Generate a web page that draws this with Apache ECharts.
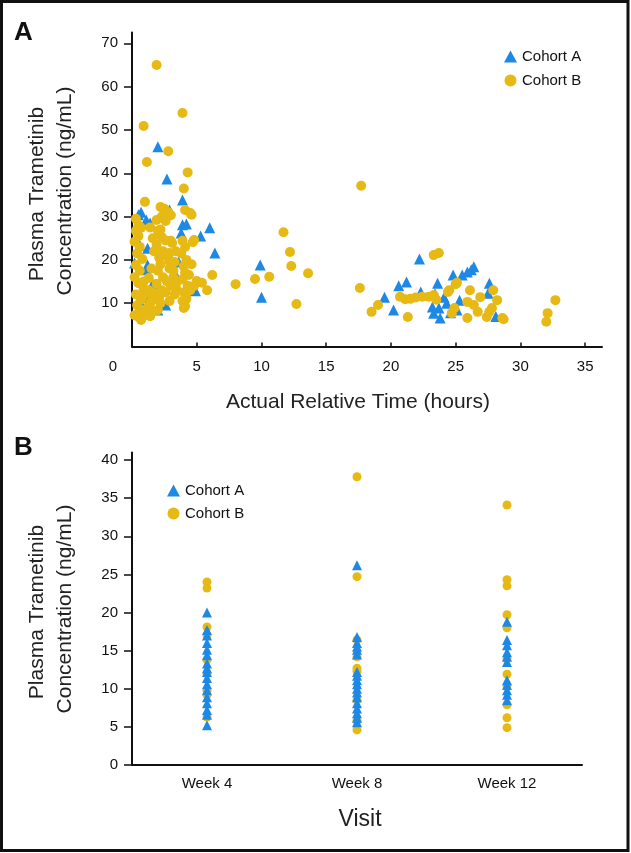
<!DOCTYPE html>
<html>
<head>
<meta charset="utf-8">
<script src="https://cdn.jsdelivr.net/npm/echarts@6/dist/echarts.min.js"></script>
<style>
html,body{margin:0;padding:0;background:#fff;}
#chart{width:631px;height:853px;}
</style>
</head>
<body>
<div id="chart"></div>
<script>
// ---------- Panel A: concentration vs actual relative time ----------
var timeTicks = [5, 10, 15, 20, 25, 30, 35];
var concTicksA = [10, 20, 30, 40, 50, 60, 70];

var timeCohortA = [2.0,2.7,3.9,0.7,0.5,1.1,1.4,3.9,4.2,6.0,3.8,5.3,6.4,0.2,1.2,1.1,4.9,2.6,2.0,1.1,9.9,10.0,2.9,0.6,1.2,0.6,3.3,2.4,1.6,3.6,
  22.2,24.8,25.5,26.2,26.4,20.6,21.2,19.5,20.2,23.6,23.7,23.8,23.3,23.2,24.3,24.1,22.3,25.3,25.1,27.6,27.5,28.1,23.4,24.6,25.9];
var concCohortA = [46.1,38.7,33.8,31.0,30.4,29.2,28.5,28.1,28.3,27.4,26.2,25.5,21.6,19.3,22.7,17.7,12.9,9.6,8.4,11.3,18.8,11.4,31.5,23.4,18.8,10.7,17.0,21.5,14.5,19.5,
  20.2,16.5,16.5,17.7,18.4,14.0,14.9,11.4,8.4,14.6,8.9,6.6,7.7,9.1,10.0,11.4,12.6,10.7,8.4,14.6,12.3,6.9,12.2,7.8,17.2];

var timeCohortB = [1.9,0.9,3.9,2.8,1.15,4.3,4.0,1.0,17.7,17.6,8.0,9.5,10.6,11.7,12.2,12.3,12.7,13.6,6.2,5.4,5.8,5.0,4.7,4.8,3.1,3.0,2.9,2.9,4.1,4.6,4.5,2.2,2.5,2.8,3.0,2.3,2.6,1.9,2.2,0.7,
  0.3,0.5,0.2,0.6,0.4,0.8,0.3,0.6,0.2,0.5,0.9,0.3,0.7,0.4,0.6,0.2,0.7,0.4,1.0,
  2.0,2.3,1.9,2.4,2.1,2.2,2.0,2.4,1.9,2.3,2.1,2.2,2.0,
  3.9,4.1,3.8,4.2,4.0,4.1,3.9,4.3,4.0,4.2,3.9,4.1,4.0,
  1.3,1.5,1.4,1.6,2.9,3.2,3.0,3.3,
  1.2,1.5,1.3,0.9,1.6,1.0,1.4,0.8,2.7,3.2,2.6,3.4,2.9,3.5,2.8,3.3,2.6,3.4,4.5,4.4,4.6,4.8,1.6,1.7,1.5,1.4,0.3,0.5,
  23.3,23.7,18.5,19.0,21.3,20.7,21.1,21.5,21.9,22.4,22.9,23.3,23.5,24.5,25.0,24.7,24.9,25.9,26.1,25.9,26.4,26.9,26.7,27.9,28.2,27.4,27.8,27.6,28.6,28.7,32.1,32.0,32.7,24.4,25.1];
var concCohortB = [65.0,50.9,53.9,45.1,42.6,40.2,36.5,33.4,37.1,13.5,14.4,15.6,16.1,26.4,21.8,18.6,9.8,16.9,16.5,14.7,13.0,15.1,24.1,24.6,23.9,24.4,21.6,19.7,31.5,30.4,30.8,32.2,31.8,31.0,30.3,30.0,29.0,29.2,27.0,27.4,
  26.7,25.5,24.2,23.0,21.5,20.2,18.8,17.5,16.0,14.6,13.3,12.0,10.8,9.5,8.3,7.2,6.1,7.0,7.3,
  26.7,25.3,23.5,22.0,20.5,19.0,17.5,16.0,14.5,13.0,11.5,10.0,8.4,
  24.4,23.0,21.5,20.0,18.5,17.0,15.5,14.0,12.5,11.0,10.5,9.3,8.9,
  15.8,12.0,10.0,8.2,18.0,16.0,14.0,12.0,
  9.0,10.5,13.0,15.0,12.5,8.0,7.0,11.5,15.0,17.5,12.5,13.5,10.5,15.0,20.5,19.5,24.5,22.0,13.0,16.5,19.0,14.0,25.0,22.0,18.0,27.5,29.5,28.0,
  21.1,21.6,8.0,9.6,6.8,11.5,10.9,11.0,11.3,11.5,11.5,11.9,10.8,13.0,14.4,7.7,8.9,6.6,13.0,10.3,9.6,11.4,8.0,13.0,10.7,6.8,8.9,8.0,6.6,6.3,7.7,5.7,10.7,12.6,14.7];

// ---------- Panel B: concentration by visit ----------
var visits = ['Week 4', 'Week 8', 'Week 12'];
var concTicksB = [0, 5, 10, 15, 20, 25, 30, 35, 40];
var week4CohortA = [20.0,17.7,17.0,16.0,15.1,14.4,13.3,12.7,12.2,11.4,10.6,9.8,8.9,8.1,7.2,6.6,5.2];
var week4CohortB = [24.0,23.2,18.1,17.0,13.8,12.0,9.8,9.2,6.3];
var week8CohortA = [26.2,16.8,16.0,15.5,15.1,14.5,12.2,11.7,11.1,10.6,10.0,9.5,8.9,8.1,7.4,6.8,6.2,5.6];
var week8CohortB = [37.8,24.7,16.4,14.2,12.7,12.3,8.5,5.8,4.6];
var week12CohortA = [18.8,16.4,15.7,14.8,14.2,13.5,11.1,10.5,9.8,9.2,8.5];
var week12CohortB = [34.1,24.3,23.5,19.7,18.0,13.9,11.9,10.4,7.9,6.2,4.9];

var BLUE = '#1E88E5';
var GOLD = '#E6B914';
var FONT = 'Liberation Sans, Arial, sans-serif';

function zip(xs, ys) { return xs.map(function (x, i) { return [x, ys[i]]; }); }
function visitPoints(lists) {
  var out = [];
  lists.forEach(function (vals, ci) { vals.forEach(function (v) { out.push([ci, v]); }); });
  return out;
}

var axisLineStyle = { color: '#111', width: 2 };

var option = {
  backgroundColor: '#fff',
  animation: false,
  textStyle: { fontFamily: FONT },
  grid: [
    { left: 132, top: 32.5, width: 470, height: 314 },
    { left: 132, top: 452.4, width: 450, height: 312.6 }
  ],
  legend: [
    { data: ['Cohort A', 'Cohort B'], orient: 'vertical', left: 499, top: 44, itemWidth: 13, itemHeight: 12, itemGap: 9,
      textStyle: { fontSize: 15, color: '#111', fontFamily: FONT }, selectedMode: false },
    { data: ['Cohort A', 'Cohort B'], orient: 'vertical', left: 162, top: 478, itemWidth: 13, itemHeight: 12, itemGap: 8,
      textStyle: { fontSize: 15, color: '#111', fontFamily: FONT }, selectedMode: false }
  ],
  xAxis: [
    { gridIndex: 0, type: 'value', min: 0, max: 36.3,
      axisLine: { lineStyle: axisLineStyle },
      axisTick: { inside: true, length: 4, lineStyle: { color: '#111', width: 1.5 }, customValues: timeTicks },
      axisLabel: { customValues: timeTicks, fontSize: 15, color: '#111', margin: 13, fontFamily: FONT },
      splitLine: { show: false } },
    { gridIndex: 1, type: 'category', data: visits, boundaryGap: true,
      axisLine: { lineStyle: axisLineStyle },
      axisTick: { length: 6, lineStyle: { color: '#111', width: 1.5 } },
      axisLabel: { fontSize: 15, color: '#111', margin: 11, fontFamily: FONT },
      splitLine: { show: false } }
  ],
  yAxis: [
    { gridIndex: 0, type: 'value', min: 0, max: 72.5,
      axisLine: { show: true, lineStyle: axisLineStyle },
      axisTick: { show: true, length: 8, lineStyle: { color: '#111', width: 1.5 }, customValues: concTicksA },
      axisLabel: { customValues: concTicksA, fontSize: 15, color: '#111', margin: 14, fontFamily: FONT },
      splitLine: { show: false } },
    { gridIndex: 1, type: 'value', min: 0, max: 41,
      axisLine: { show: true, lineStyle: axisLineStyle },
      axisTick: { show: true, length: 8, lineStyle: { color: '#111', width: 1.5 }, customValues: concTicksB },
      axisLabel: { customValues: concTicksB, fontSize: 15, color: '#111', margin: 14, fontFamily: FONT },
      splitLine: { show: false } }
  ],
  series: [
    { name: 'Cohort A', type: 'scatter', xAxisIndex: 0, yAxisIndex: 0, symbol: 'triangle', symbolSize: [11, 11],
      itemStyle: { color: BLUE, opacity: 1 }, data: zip(timeCohortA, concCohortA) },
    { name: 'Cohort B', type: 'scatter', xAxisIndex: 0, yAxisIndex: 0, symbol: 'circle', symbolSize: 10,
      itemStyle: { color: GOLD, opacity: 1 }, data: zip(timeCohortB, concCohortB) },
    { name: 'Cohort B', type: 'scatter', xAxisIndex: 1, yAxisIndex: 1, symbol: 'circle', symbolSize: 9,
      itemStyle: { color: GOLD, opacity: 1 }, data: visitPoints([week4CohortB, week8CohortB, week12CohortB]) },
    { name: 'Cohort A', type: 'scatter', xAxisIndex: 1, yAxisIndex: 1, symbol: 'triangle', symbolSize: [10, 10],
      itemStyle: { color: BLUE, opacity: 1 }, data: visitPoints([week4CohortA, week8CohortA, week12CohortA]) }
  ],
  graphic: [
    { type: 'rect', shape: { x: 1.5, y: 1.5, width: 626.5, height: 849 }, style: { fill: null, stroke: '#111', lineWidth: 3 }, silent: true },
    { type: 'text', x: 14, y: 20, style: { text: 'A', font: 'bold 26px ' + FONT, fill: '#111' } },
    { type: 'text', x: 14, y: 435, style: { text: 'B', font: 'bold 26px ' + FONT, fill: '#111' } },
    { type: 'text', x: 113, y: 367, style: { text: '0', font: '15px ' + FONT, fill: '#111', align: 'center', verticalAlign: 'middle' } },
    { type: 'text', x: 37, y: 194, rotation: Math.PI / 2, style: { text: 'Plasma Trametinib', font: '21px ' + FONT, fill: '#222', align: 'center', verticalAlign: 'middle' } },
    { type: 'text', x: 65, y: 191, rotation: Math.PI / 2, style: { text: 'Concentration (ng/mL)', font: '21px ' + FONT, fill: '#222', align: 'center', verticalAlign: 'middle' } },
    { type: 'text', x: 358, y: 402, style: { text: 'Actual Relative Time (hours)', font: '21px ' + FONT, fill: '#222', align: 'center', verticalAlign: 'middle' } },
    { type: 'text', x: 37, y: 612, rotation: Math.PI / 2, style: { text: 'Plasma Trametinib', font: '21px ' + FONT, fill: '#222', align: 'center', verticalAlign: 'middle' } },
    { type: 'text', x: 65, y: 609, rotation: Math.PI / 2, style: { text: 'Concentration (ng/mL)', font: '21px ' + FONT, fill: '#222', align: 'center', verticalAlign: 'middle' } },
    { type: 'text', x: 360, y: 820, style: { text: 'Visit', font: '23px ' + FONT, fill: '#222', align: 'center', verticalAlign: 'middle' } }
  ]
};

var chart = echarts.init(document.getElementById('chart'), null, { renderer: 'canvas' });
chart.setOption(option);
</script>
</body>
</html>
